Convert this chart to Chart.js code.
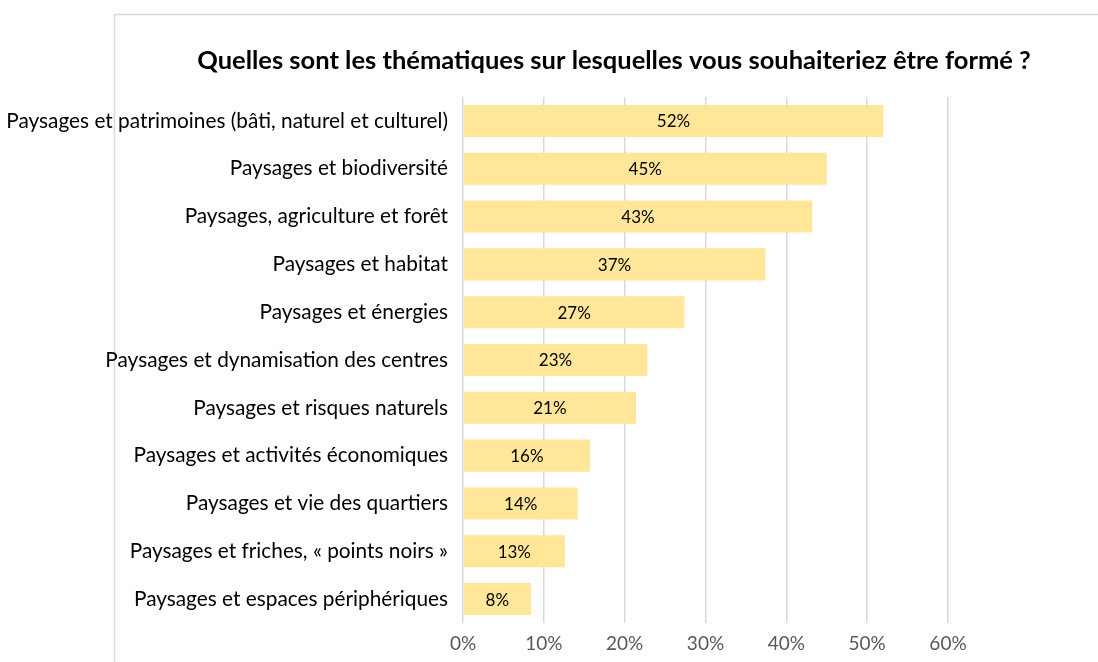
<!DOCTYPE html>
<html>
<head>
<meta charset="utf-8">
<script src="https://cdn.jsdelivr.net/npm/chart.js@4"></script>
<style>
  html, body { margin: 0; padding: 0; background: #fff; }
  #wrap { position: relative; width: 1098px; height: 662px; }
</style>
</head>
<body>
<div id="wrap"><canvas id="chart"></canvas></div>
<script>
// Data (share of respondents, %)
const categories = [
    'Paysages et patrimoines (bâti, naturel et culturel)',
    'Paysages et biodiversité',
    'Paysages, agriculture et forêt',
    'Paysages et habitat',
    'Paysages et énergies',
    'Paysages et dynamisation des centres',
    'Paysages et risques naturels',
    'Paysages et activités économiques',
    'Paysages et vie des quartiers',
    'Paysages et friches, « points noirs »',
    'Paysages et espaces périphériques'
];
const values = [52, 45, 43.2, 37.4, 27.4, 22.8, 21.4, 15.7, 14.2, 12.6, 8.4];
const xTicks = [0, 10, 20, 30, 40, 50, 60];
const titleText = 'Quelles sont les thématiques sur lesquelles vous souhaiteriez être formé ?';

const FONT = 'Lato, "Open Sans", sans-serif';

// light frame of the original chart area, plus the title
const framePlugin = {
    id: 'frame',
    beforeDraw(chart) {
        const c = chart.ctx;
        c.save();
        c.strokeStyle = '#d9d9d9';
        c.lineWidth = 1.5;
        c.beginPath();
        c.moveTo(114.5, 662);
        c.lineTo(114.5, 14.5);
        c.lineTo(1098, 14.5);
        c.stroke();
        c.restore();
    },
    afterDraw(chart) {
        const c = chart.ctx;
        c.save();
        c.fillStyle = '#000';
        c.font = 'bold 25.5px ' + FONT;
        c.textAlign = 'center';
        c.textBaseline = 'middle';
        c.fillText(titleText, 614, 61);
        c.restore();
    }
};

// value labels centred in each bar
const barLabels = {
    id: 'barLabels',
    afterDatasetsDraw(chart) {
        const c = chart.ctx;
        const meta = chart.getDatasetMeta(0);
        c.save();
        c.fillStyle = '#000';
        c.font = '17px ' + FONT;
        c.textAlign = 'center';
        c.textBaseline = 'middle';
        meta.data.forEach((bar, i) => {
            const cx = (bar.x + bar.base) / 2;
            c.fillText(Math.round(values[i]) + '%', cx, bar.y + 1);
        });
        c.restore();
    }
};

const ctx = document.getElementById('chart').getContext('2d');
new Chart(ctx, {
    type: 'bar',
    data: {
        labels: categories,
        datasets: [{
            data: values,
            backgroundColor: '#FFE699',
            borderWidth: 0,
            categoryPercentage: 1,
            barPercentage: 0.67
        }]
    },
    options: {
        indexAxis: 'y',
        responsive: true,
        maintainAspectRatio: false,
        animation: false,
        layout: {
            padding: { top: 97, right: 150, bottom: 0, left: 0 }
        },
        plugins: {
            legend: { display: false },
            tooltip: { enabled: false }
        },
        scales: {
            x: {
                min: 0,
                max: 60,
                afterBuildTicks(scale) {
                    scale.ticks = xTicks.map(v => ({ value: v }));
                },
                afterFit(scale) { scale.height = 39; },
                grid: {
                    color: '#d9d9d9',
                    lineWidth: 1.5,
                    drawTicks: false
                },
                border: { display: false },
                ticks: {
                    padding: 9,
                    color: '#595959',
                    font: { family: FONT, size: 19 },
                    callback: v => v + '%'
                }
            },
            y: {
                afterFit(scale) { scale.width = 463; },
                grid: { display: false },
                border: { display: false },
                ticks: {
                    padding: 7,
                    color: '#000',
                    font: { family: FONT, size: 20.8 }
                }
            }
        }
    },
    plugins: [framePlugin, barLabels]
});
</script>
</body>
</html>
